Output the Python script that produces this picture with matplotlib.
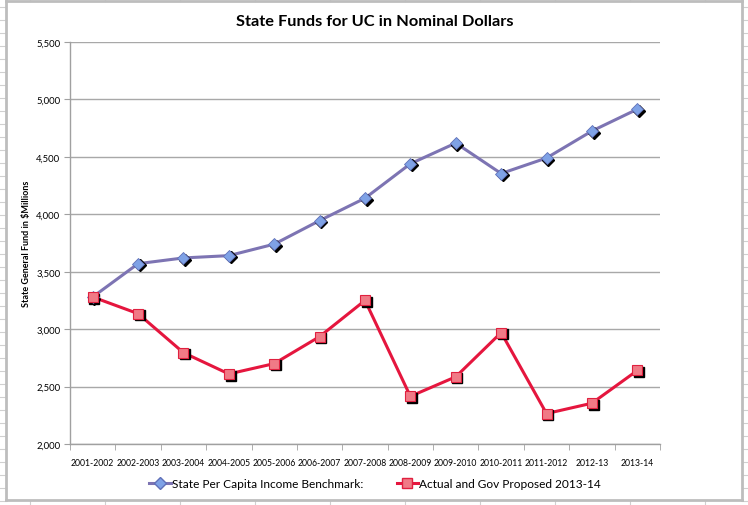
import numpy as np
import matplotlib.pyplot as plt
import matplotlib.transforms as mtransforms
from matplotlib.lines import Line2D
from matplotlib.ticker import FuncFormatter, FixedLocator

plt.rcParams['font.family'] = ['Lato', 'DejaVu Sans']

years = ['2001-2002', '2002-2003', '2003-2004', '2004-2005', '2005-2006',
         '2006-2007', '2007-2008', '2008-2009', '2009-2010', '2010-2011',
         '2011-2012', '2012-13', '2013-14']
benchmark = [3280, 3570, 3620, 3640, 3740, 3945, 4140, 4440, 4620, 4355, 4490, 4725, 4915]
actual = [3280, 3135, 2795, 2610, 2700, 2935, 3250, 2415, 2585, 2970, 2265, 2355, 2640]

W, H = 748, 506
fig = plt.figure(figsize=(W / 100, H / 100), dpi=100)
fig.patch.set_facecolor('white')

# spreadsheet cells behind the chart
for y in np.arange(8, H, 13):
    fig.add_artist(Line2D([0, 6 / W], [1 - y / H] * 2, color='#d0d0d0', lw=0.8))
    fig.add_artist(Line2D([742 / W, 1], [1 - y / H] * 2, color='#d0d0d0', lw=0.8))
for x in [30, 105, 180, 255, 330, 405, 480, 555, 630, 705]:
    fig.add_artist(Line2D([x / W] * 2, [1, 1 - 2 / H], color='#d0d0d0', lw=0.8))
    fig.add_artist(Line2D([x / W] * 2, [1 - 502 / H, 0], color='#d0d0d0', lw=0.8))
# chart border
fig.add_artist(Line2D([6 / W, 6 / W], [1 - 2 / H, 1 - 501 / H], color='#bdbdbd', lw=2))
fig.add_artist(Line2D([742 / W, 742 / W], [1 - 2 / H, 1 - 501 / H], color='#bdbdbd', lw=2))
fig.add_artist(Line2D([6 / W, 742 / W], [1 - 501 / H] * 2, color='#bdbdbd', lw=2))
fig.add_artist(Line2D([6 / W, 742 / W], [1 - 2 / H] * 2, color='#bdbdbd', lw=2))

ax = fig.add_axes([70 / W, (H - 445) / H, 590 / W, 402 / H])
x = np.arange(len(years))

def shadow(ax, dx, dy):
    return mtransforms.offset_copy(ax.transData, fig=fig, x=dx, y=dy, units='points')

ax.plot(x, benchmark, color='#7d74b3', lw=2.2, zorder=3)
ax.plot(x, benchmark, ls='none', marker='D', ms=6.5, color='black',
        transform=shadow(ax, 1.2, -1.2), zorder=4)
ax.plot(x, benchmark, ls='none', marker='D', ms=6.5, mfc='#7fa2e6', mec='#6070b8',
        mew=0.6, zorder=5)

ax.plot(x, actual, color='#e5163e', lw=2.2, zorder=3)
ax.plot(x, actual, ls='none', marker='s', ms=7.5, color='black',
        transform=shadow(ax, 1.2, -1.2), zorder=4)
ax.plot(x, actual, ls='none', marker='s', ms=7.5, mfc='#f07a86', mec='#e0203f',
        mew=0.8, zorder=5)

ax.set_xlim(-0.5, len(years) - 0.5)
ax.set_ylim(2000, 5500)
ax.set_yticks(np.arange(2000, 5501, 500))
ax.yaxis.set_major_formatter(FuncFormatter(lambda v, p: f'{int(v):,}'))
ax.set_xticks(x)
ax.set_xticklabels(years, fontsize=6.2)
ax.xaxis.set_minor_locator(FixedLocator(np.arange(-0.5, len(years), 1)))
ax.tick_params(axis='x', which='major', length=0, pad=10)
ax.tick_params(axis='x', which='minor', length=4, color='#a0a0a0', direction='out')
ax.tick_params(axis='y', labelsize=6.8, length=4, color='#a0a0a0', pad=3)
ax.grid(axis='y', color='#a8a8a8', lw=1)
ax.set_axisbelow(True)
for s in ['top', 'right']:
    ax.spines[s].set_visible(False)
for s in ['left', 'bottom']:
    ax.spines[s].set_color('#a0a0a0')
    ax.spines[s].set_linewidth(1)

ax.set_ylabel('State General Fund in $Millions', fontsize=6.5, fontweight='bold', labelpad=4)
fig.text(375 / W, 1 - 22 / H, 'State Funds for UC in Nominal Dollars', ha='center',
         va='center', fontsize=11.8, fontweight='bold')

h1 = Line2D([], [], color='#7d74b3', lw=2.2, marker='D', ms=6, mfc='#7fa2e6', mec='#6070b8')
h2 = Line2D([], [], color='#e5163e', lw=2.2, marker='s', ms=7, mfc='#f07a86', mec='#e0203f')
fig.legend([h1, h2], ['State Per Capita Income Benchmark:', 'Actual and Gov Proposed 2013-14'],
           loc='center', bbox_to_anchor=(375 / W, 1 - 485 / H), ncol=2, frameon=False,
           fontsize=8.6, handlelength=1.8, handletextpad=0.1, columnspacing=2.8)

fig.savefig('out.png', dpi=100)
